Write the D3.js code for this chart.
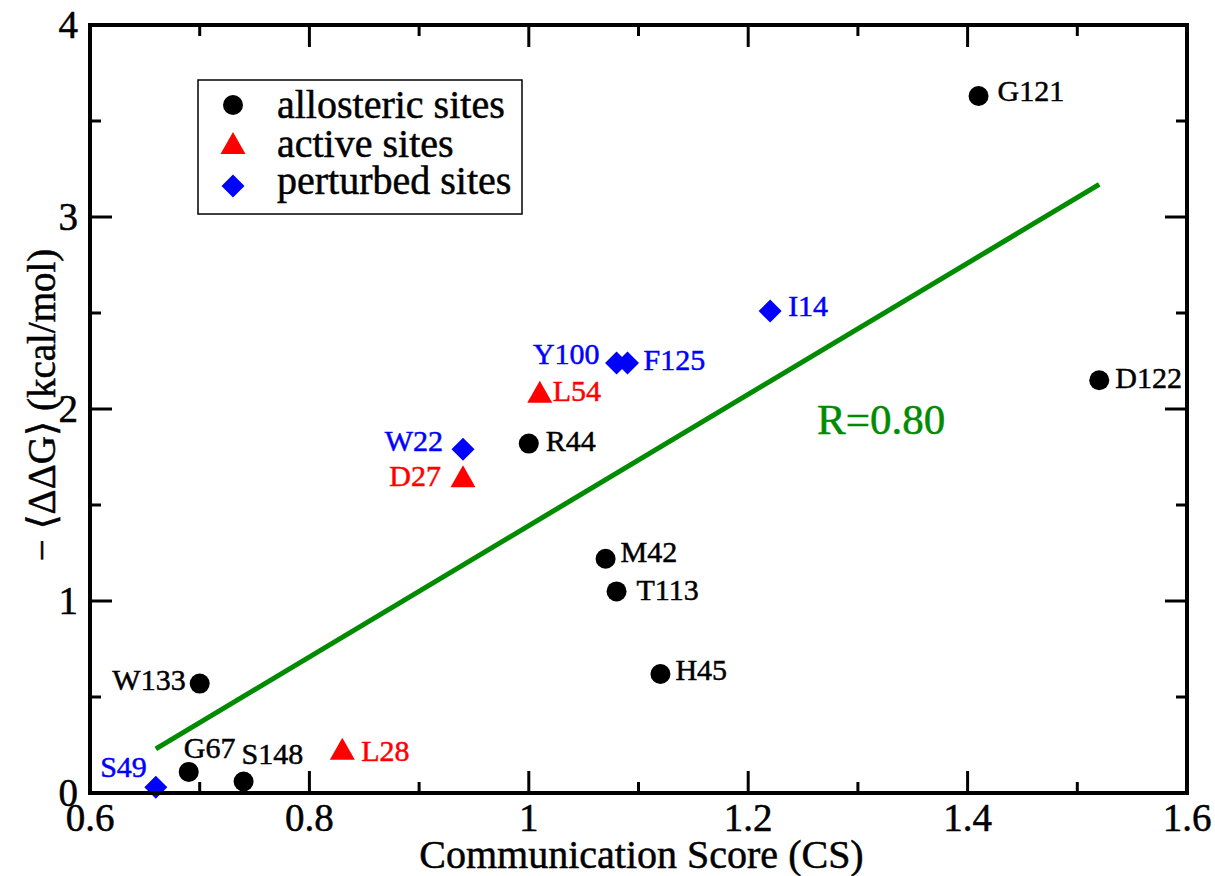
<!DOCTYPE html>
<html>
<head>
<meta charset="utf-8">
<script src="https://cdn.jsdelivr.net/npm/d3@7"></script>
<style>
  html, body { margin: 0; padding: 0; background: #fff; }
  svg text { font-family: "Liberation Serif", "DejaVu Serif", serif; stroke-width: 0.5px; }
</style>
</head>
<body>
<svg id="chart" width="1215" height="876"></svg>
<script>
// Residues grouped by site type: communication score (CS) vs -<ddG>
const allostericNames = ["G121", "D122", "R44", "M42", "T113", "H45", "W133", "G67", "S148"];
const allostericCS    = [1.41, 1.52, 1.00, 1.07, 1.08, 1.12, 0.70, 0.69, 0.74];
const allostericDDG   = [3.63, 2.15, 1.82, 1.22, 1.05, 0.62, 0.57, 0.11, 0.06];

const activeNames = ["L54", "D27", "L28"];
const activeCS    = [1.01, 0.94, 0.83];
const activeDDG   = [2.09, 1.65, 0.23];

const perturbedNames = ["I14", "Y100", "F125", "W22", "S49"];
const perturbedCS    = [1.22, 1.08, 1.09, 0.94, 0.66];
const perturbedDDG   = [2.51, 2.24, 2.24, 1.79, 0.03];

// Linear fit drawn across the data range
const fitCS  = [0.66, 1.52];
const fitDDG = [0.23, 3.17];
const fitLabel = "R=0.80";

const xTicks = [0.6, 0.8, 1.0, 1.2, 1.4, 1.6];
const xTickLabels = ["0.6", "0.8", "1", "1.2", "1.4", "1.6"];
const yTicks = [0, 1, 2, 3, 4];
const yTickLabels = ["0", "1", "2", "3", "4"];

const legendLabels = ["allosteric sites", "active sites", "perturbed sites"];

// Label placement next to each marker: offset (px) and text anchor
const labelPlacement = {
  G121: [19, 5, "start"], D122: [16, 8, "start"], R44: [17, 7, "start"],
  M42: [15, 3, "start"], T113: [20, 9, "start"], H45: [15, 6, "start"],
  W133: [-14, 6, "end"], G67: [-5, -14, "start"], S148: [-2, -17, "start"],
  L54: [13, 9, "start"], D27: [-22, 10, "end"], L28: [19, 12, "start"],
  I14: [18, 5, "start"], Y100: [-17, 1, "end"], F125: [16, 7, "start"],
  W22: [-20, 2, "end"], S49: [-9, -10, "end"]
};

const colors = { allosteric: "#000000", active: "#ff0000", perturbed: "#0000ff", fit: "#008b00" };
const serif = "Liberation Serif";

const svg = d3.select("#chart").attr("font-family", serif);
const plotLeft = 90, plotRight = 1187, plotTop = 25, plotBottom = 793;

const x = d3.scaleLinear().domain([0.6, 1.6]).range([plotLeft, plotRight]);
const y = d3.scaleLinear().domain([0, 4]).range([plotBottom, plotTop]);

// Marker shapes
function trianglePath(s) {
  return `M0,${-11 * s}L${12.5 * s},${11 * s}L${-12.5 * s},${11 * s}Z`;
}
function diamondPath(s) {
  return `M0,${-11.5 * s}L${11.5 * s},0L0,${11.5 * s}L${-11.5 * s},0Z`;
}
const shapes = {
  allosteric: d3.symbol(d3.symbolCircle, Math.PI * 100)(),
  active: trianglePath(1),
  perturbed: diamondPath(1)
};

// Fit line (drawn beneath the markers)
svg.append("line")
  .attr("x1", x(fitCS[0])).attr("y1", y(fitDDG[0]))
  .attr("x2", x(fitCS[1])).attr("y2", y(fitDDG[1]))
  .attr("stroke", colors.fit).attr("stroke-width", 5);

svg.append("text")
  .attr("x", 817).attr("y", 434)
  .attr("font-family", serif)
  .attr("font-size", 43).attr("fill", colors.fit).attr("stroke", colors.fit)
  .text(fitLabel);

// Series
const series = [
  { key: "allosteric", names: allostericNames, xs: allostericCS, ys: allostericDDG },
  { key: "active", names: activeNames, xs: activeCS, ys: activeDDG },
  { key: "perturbed", names: perturbedNames, xs: perturbedCS, ys: perturbedDDG }
];

series.forEach(s => {
  const pts = s.names.map((n, i) => ({ name: n, cs: s.xs[i], ddg: s.ys[i] }));
  const g = svg.append("g");
  g.selectAll("path").data(pts).join("path")
    .attr("d", shapes[s.key])
    .attr("transform", d => `translate(${x(d.cs)},${y(d.ddg)})`)
    .attr("fill", colors[s.key]);
  g.selectAll("text").data(pts).join("text")
    .attr("x", d => x(d.cs) + labelPlacement[d.name][0])
    .attr("y", d => y(d.ddg) + labelPlacement[d.name][1])
    .attr("text-anchor", d => labelPlacement[d.name][2])
    .attr("font-family", serif)
    .attr("font-size", 30)
    .attr("fill", colors[s.key]).attr("stroke", colors[s.key])
    .text(d => d.name);
});

// Frame and inward ticks on all four sides
const axisG = svg.append("g").attr("stroke", "#000").attr("fill", "none");
const majorLen = 22, minorLen = 11;
const xMinor = [0.7, 0.9, 1.1, 1.3, 1.5];
const yMinor = [0.5, 1.5, 2.5, 3.5];

function tick(x1, y1, x2, y2) {
  axisG.append("line").attr("x1", x1).attr("y1", y1).attr("x2", x2).attr("y2", y2).attr("stroke-width", 3);
}
xTicks.forEach(t => {
  tick(x(t), plotBottom, x(t), plotBottom - majorLen);
  tick(x(t), plotTop, x(t), plotTop + majorLen);
});
xMinor.forEach(t => {
  tick(x(t), plotBottom, x(t), plotBottom - minorLen);
  tick(x(t), plotTop, x(t), plotTop + minorLen);
});
yTicks.forEach(t => {
  tick(plotLeft, y(t), plotLeft + majorLen, y(t));
  tick(plotRight, y(t), plotRight - majorLen, y(t));
});
yMinor.forEach(t => {
  tick(plotLeft, y(t), plotLeft + minorLen, y(t));
  tick(plotRight, y(t), plotRight - minorLen, y(t));
});
axisG.append("rect")
  .attr("x", plotLeft).attr("y", plotTop)
  .attr("width", plotRight - plotLeft).attr("height", plotBottom - plotTop)
  .attr("stroke-width", 4);

// Tick labels
svg.append("g").selectAll("text").data(xTicks).join("text")
  .attr("x", d => x(d)).attr("y", plotBottom + 38)
  .attr("text-anchor", "middle").attr("font-family", serif).attr("font-size", 39)
  .attr("stroke", "#000")
  .text((d, i) => xTickLabels[i]);
svg.append("g").selectAll("text").data(yTicks).join("text")
  .attr("x", plotLeft - 12).attr("y", d => y(d) + 13)
  .attr("text-anchor", "end").attr("font-family", serif).attr("font-size", 39)
  .attr("stroke", "#000")
  .text((d, i) => yTickLabels[i]);

// Axis titles
svg.append("text")
  .attr("x", (plotLeft + plotRight) / 2 + 3).attr("y", 868)
  .attr("text-anchor", "middle").attr("font-family", serif).attr("font-size", 40)
  .attr("stroke", "#000")
  .text("Communication Score (CS)");
svg.append("text")
  .attr("transform", `translate(55, ${(plotTop + plotBottom) / 2 - 4}) rotate(-90)`)
  .attr("text-anchor", "middle").attr("font-family", serif).attr("font-size", 39)
  .attr("stroke", "#000")
  .text("\u2212 \u27E8\u0394\u0394G\u27E9 (kcal/mol)");

// Legend
const legend = svg.append("g");
legend.append("rect")
  .attr("x", 198).attr("y", 80).attr("width", 324).attr("height", 134)
  .attr("fill", "#fff").attr("stroke", "#000").attr("stroke-width", 1.5);
const legendKeys = ["allosteric", "active", "perturbed"];
const legendRowY = [105, 143, 186];
const legendBaseY = [118, 157, 194];
legendKeys.forEach((k, i) => {
  legend.append("path").attr("d", shapes[k])
    .attr("transform", `translate(233, ${legendRowY[i]})`)
    .attr("fill", colors[k]);
  legend.append("text")
    .attr("x", 277).attr("y", legendBaseY[i])
    .attr("font-family", serif)
    .attr("font-size", 40)
    .attr("stroke", "#000")
    .text(legendLabels[i]);
});
</script>
</body>
</html>
